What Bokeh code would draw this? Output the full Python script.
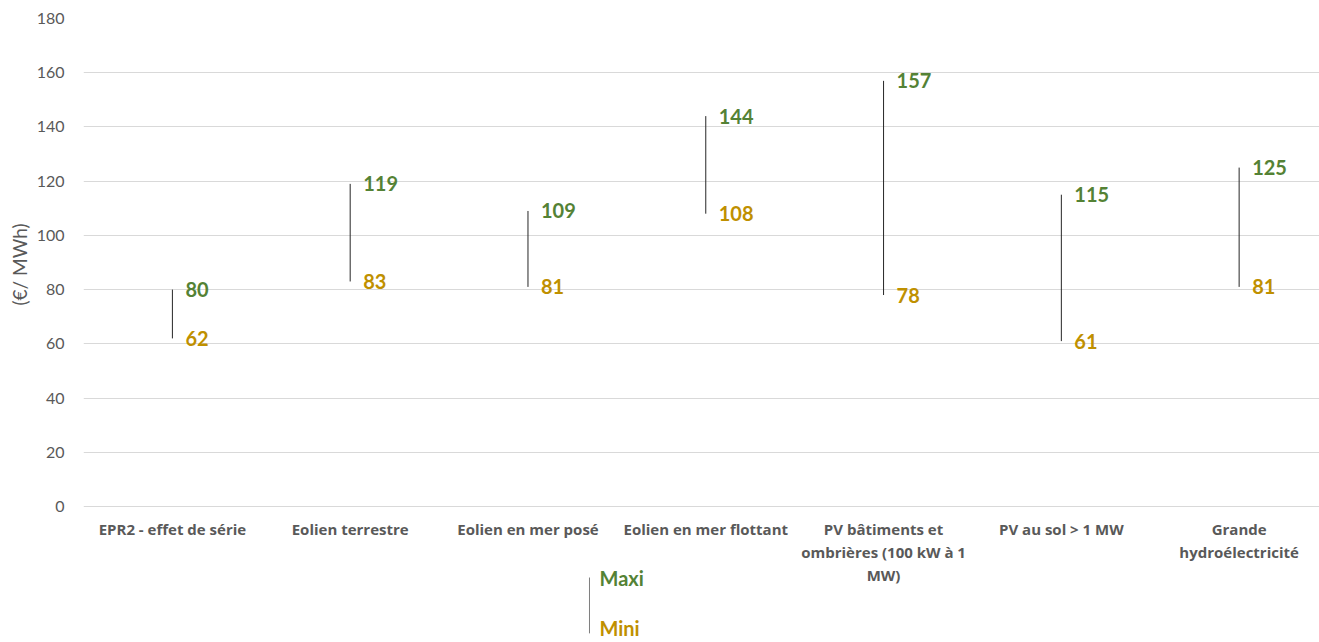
import numpy as np
from bokeh.plotting import figure
from bokeh.models import Range1d, FixedTicker, ColumnDataSource, Title
from bokeh.core.properties import value
from bokeh.embed import file_html
from bokeh.resources import INLINE

categories = [
    "EPR2 - effet de série",
    "Eolien terrestre",
    "Eolien en mer posé",
    "Eolien en mer flottant",
    "PV bâtiments et\nombrières (100 kW à 1\nMW)",
    "PV au sol > 1 MW",
    "Grande\nhydroélectricité",
]
maxi = [80, 119, 109, 144, 157, 115, 125]
mini = [62, 83, 81, 108, 78, 61, 81]
y_ticks = [0, 20, 40, 60, 80, 100, 120, 140, 160, 180]
legend_labels = ["Maxi", "Mini"]

GREEN = "#548235"
GOLD = "#BF9000"
GRAY = "#595959"
FONT = "Lato"
CATFONT = "Open Sans"

xs = list(np.arange(len(categories)) + 0.5)
src = ColumnDataSource(dict(x=xs, maxi=maxi, mini=mini,
                            maxi_t=[str(v) for v in maxi],
                            mini_t=[str(v) for v in mini],
                            cat=categories, zero=[0] * len(categories)))

p = figure(width=1319, height=642, output_backend="svg", toolbar_location=None,
           x_range=Range1d(0, 6.952), y_range=Range1d(-50.17, 180),
           x_axis_location=None,
           min_border_left=83, min_border_right=0, min_border_top=18, min_border_bottom=0)
p.outline_line_color = None
p.background_fill_color = "white"
p.border_fill_color = "white"

# grid
p.xgrid.grid_line_color = None
p.ygrid.grid_line_color = "#D9D9D9"
p.ygrid.grid_line_width = 1

# y axis
yax = p.yaxis[0]
yax.ticker = FixedTicker(ticks=y_ticks)
yax.axis_line_color = None
yax.major_tick_line_color = None
yax.minor_tick_line_color = None
yax.major_tick_out = 0
yax.major_label_standoff = 19
yax.major_label_text_font = FONT
yax.major_label_text_font_size = "16px"
yax.major_label_text_color = GRAY

p.add_layout(Title(text="(€/ MWh)", align="left", offset=337, standoff=6, text_font=FONT,
                   text_font_size="19px", text_font_style="normal", text_color=GRAY), "left")

# category labels
p.text(x="x", y="zero", text="cat", source=src, y_offset=13,
       text_font=value(CATFONT), text_font_size="15px", text_font_style="bold",
       text_color=GRAY, text_align="center", text_baseline="top", text_line_height=1.15)

# range lines
p.segment(x0="x", y0="mini", x1="x", y1="maxi", source=src, line_color="#262626", line_width=1)

# value labels
p.text(x="x", y="maxi", text="maxi_t", source=src, x_offset=13,
       text_font=value(FONT), text_font_size="20px", text_font_style="bold",
       text_color=GREEN, text_baseline="middle", text_align="left")
p.text(x="x", y="mini", text="mini_t", source=src, x_offset=13,
       text_font=value(FONT), text_font_size="20px", text_font_style="bold",
       text_color=GOLD, text_baseline="middle", text_align="left")

# legend (below the category labels)
leg_x = 2.846
leg = ColumnDataSource(dict(x=[leg_x, leg_x], y=[-26.2, -45.0], t=legend_labels,
                            c=[GREEN, GOLD]))
p.segment(x0=leg_x, y0=-26.2, x1=leg_x, y1=-46.8, line_color="#7F7F7F", line_width=1)
p.text(x="x", y="y", text="t", source=leg, x_offset=10, text_color="c",
       text_font=value(FONT), text_font_size="20px", text_font_style="bold",
       text_baseline="middle", text_align="left")

open("out.html", "w").write(file_html(p, INLINE))
